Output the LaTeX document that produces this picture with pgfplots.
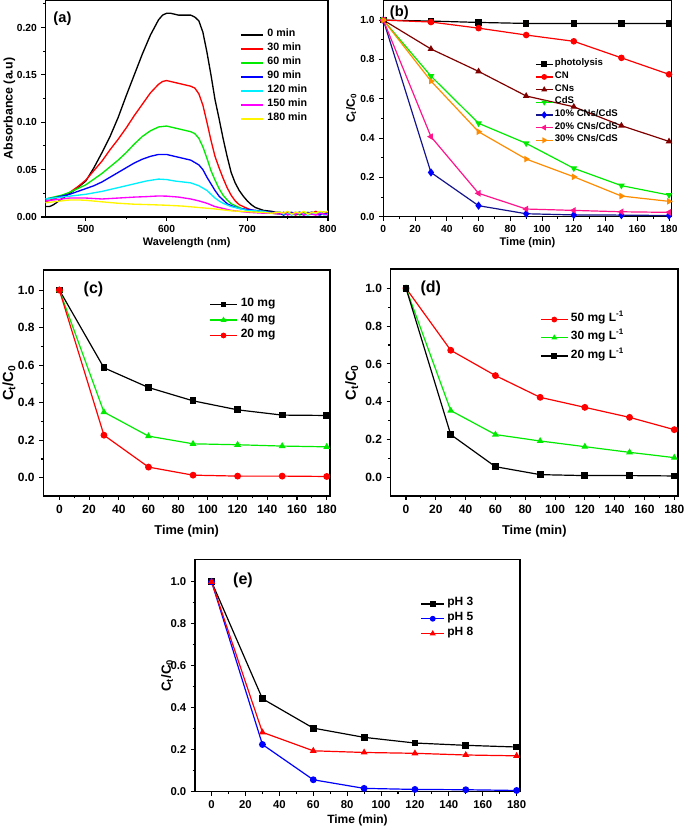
\documentclass[border=0pt]{standalone}
\usepackage{fontspec}
\setmainfont{Liberation Sans}
\usepackage{pgfplots}
\pgfplotsset{compat=1.18}
\definecolor{cgreen}{RGB}{0,235,0}
\definecolor{wine}{RGB}{128,0,0}
\definecolor{navyb}{RGB}{20,20,140}
\definecolor{hotpink}{RGB}{255,20,140}
\definecolor{orng}{RGB}{255,140,0}
\definecolor{yel}{RGB}{255,245,0}
\definecolor{ccyan}{RGB}{0,240,255}
\definecolor{cmag}{RGB}{255,0,255}
\definecolor{cred}{RGB}{255,0,0}
\definecolor{cblue}{RGB}{0,0,255}
\pgfplotsset{
  base/.style={scale only axis, anchor=south west,
    axis line style={line width=0.9pt},
    tick align=outside, xtick pos=bottom, ytick pos=left,
    major tick length=3pt, minor tick length=1.8pt,
    every tick/.append style={black, line width=0.8pt},
    /pgf/number format/assume math mode=true,
    legend cell align=left,
    every axis plot/.append style={line width=0.9pt},
  },
  kin/.style={base,
    xtick={0,20,...,180}, minor xtick={10,30,...,170},
    ytick={0,0.2,...,1.0}, minor ytick={0.1,0.3,...,0.9},
    yticklabel style={/pgf/number format/.cd, fixed, fixed zerofill, precision=1},
    xticklabel style={/pgf/number format/.cd, fixed},
  },
  mleg/.style={legend image code/.code={\draw[mark repeat=2,mark phase=2,line width=0.9pt,##1,mark size=1.7pt] plot coordinates {(0pt,0pt) (#1/2,0pt) (#1,0pt)};}},
}
\begin{document}
\begin{tikzpicture}
\useasboundingbox (0,0) rectangle (513.75pt,619.5pt);
% ---------------- (a)
\begin{axis}[base, at={(34.125pt,456.75pt)}, width=211.875pt, height=162.75pt,
  xmin=450, xmax=800, ymin=0, ymax=0.229,
  xtick={500,600,700,800}, minor xtick={550,650,750},
  ytick={0,0.05,...,0.2}, minor ytick={0.025,0.075,...,0.2},
  yticklabel style={/pgf/number format/.cd, fixed, fixed zerofill, precision=2},
  ticklabel style={font=\bfseries\fontsize{7.7}{8}\selectfont},
  xlabel={Wavelength (nm)}, ylabel={Absorbance (a.u)},
  xlabel style={at={(axis description cs:0.5,-0.12)}, anchor=center, font=\bfseries\fontsize{8.2}{9}\selectfont},
  ylabel style={at={(axis description cs:-0.1274,0.5)}, anchor=center, font=\bfseries\fontsize{9.3}{10}\selectfont},
  every axis plot/.append style={line width=1pt},
  legend image code/.code={\draw[line width=1pt,#1] (0pt,0pt) -- (17pt,0pt);},
  legend style={at={(0.688,0.872)}, anchor=north west, draw=none, fill=none, inner sep=0pt, row sep=0pt, column sep=2.5pt,
    nodes={inner sep=0pt, text height=6.5pt, text depth=4pt, font=\bfseries\fontsize{8}{9}\selectfont}},
]
\addplot[black] coordinates {(450,0.011)(455,0.011)(460,0.013)(465,0.016)(470,0.019)(475,0.022)(480,0.025)(490,0.031)(500,0.038)(510,0.052)(520,0.068)(530,0.085)(540,0.105)(550,0.128)(560,0.150)(570,0.172)(580,0.192)(590,0.208)(595,0.213)(600,0.215)(605,0.215)(610,0.214)(615,0.213)(620,0.213)(625,0.213)(630,0.213)(635,0.211)(640,0.207)(645,0.195)(650,0.174)(655,0.150)(660,0.124)(665,0.104)(670,0.083)(675,0.064)(680,0.047)(685,0.036)(690,0.028)(695,0.022)(700,0.017)(705,0.013)(710,0.010)(720,0.007)(730,0.006)(735,0.005)(740,0.005)(745,0.004)(750,0.005)(755,0.003)(760,0.004)(765,0.005)(770,0.003)(775,0.004)(780,0.005)(785,0.003)(790,0.004)(795,0.005)(800,0.004)};
\addlegendentry{0 min}
\addplot[cred] coordinates {(450,0.016)(460,0.019)(470,0.022)(480,0.026)(490,0.032)(500,0.039)(510,0.049)(520,0.059)(530,0.071)(540,0.082)(550,0.094)(560,0.107)(570,0.119)(580,0.131)(590,0.140)(595,0.143)(600,0.144)(610,0.142)(620,0.140)(630,0.138)(635,0.136)(640,0.130)(645,0.118)(650,0.100)(655,0.081)(660,0.064)(665,0.052)(670,0.041)(675,0.031)(680,0.023)(685,0.017)(690,0.013)(700,0.009)(710,0.006)(720,0.005)(730,0.004)(740,0.004)(745,0.003)(750,0.005)(755,0.004)(760,0.002)(765,0.004)(770,0.005)(775,0.003)(780,0.004)(785,0.006)(790,0.003)(795,0.004)(800,0.005)};
\addlegendentry{30 min}
\addplot[cgreen] coordinates {(450,0.019)(460,0.021)(470,0.023)(480,0.026)(490,0.030)(500,0.034)(510,0.040)(520,0.046)(530,0.053)(540,0.060)(550,0.068)(560,0.077)(570,0.085)(580,0.091)(590,0.095)(600,0.096)(610,0.094)(620,0.092)(630,0.090)(635,0.088)(640,0.083)(645,0.074)(650,0.062)(655,0.049)(660,0.039)(665,0.030)(670,0.023)(675,0.018)(680,0.014)(690,0.010)(700,0.007)(710,0.006)(720,0.005)(730,0.004)(740,0.003)(745,0.005)(750,0.003)(755,0.004)(760,0.005)(765,0.002)(770,0.004)(775,0.005)(780,0.003)(785,0.004)(790,0.005)(795,0.003)(800,0.004)};
\addlegendentry{60 min}
\addplot[cblue] coordinates {(450,0.019)(460,0.020)(470,0.022)(480,0.024)(490,0.027)(500,0.030)(510,0.033)(520,0.037)(530,0.042)(540,0.047)(550,0.052)(560,0.057)(570,0.061)(580,0.064)(590,0.066)(600,0.066)(610,0.064)(620,0.062)(630,0.060)(640,0.055)(645,0.050)(650,0.042)(655,0.035)(660,0.028)(665,0.022)(670,0.018)(675,0.014)(680,0.012)(690,0.009)(700,0.008)(720,0.006)(730,0.005)(740,0.004)(745,0.002)(750,0.004)(755,0.005)(760,0.003)(765,0.004)(770,0.002)(775,0.004)(780,0.005)(785,0.003)(790,0.002)(795,0.004)(800,0.003)};
\addlegendentry{90 min}
\addplot[ccyan] coordinates {(450,0.019)(470,0.021)(480,0.022)(500,0.024)(520,0.027)(540,0.031)(560,0.035)(575,0.038)(590,0.040)(600,0.0395)(610,0.038)(620,0.037)(630,0.036)(640,0.033)(650,0.028)(655,0.024)(660,0.020)(665,0.017)(670,0.0145)(680,0.011)(690,0.009)(700,0.007)(720,0.006)(730,0.004)(740,0.005)(745,0.003)(750,0.004)(755,0.002)(760,0.004)(765,0.005)(770,0.003)(775,0.002)(780,0.004)(785,0.003)(790,0.005)(795,0.002)(800,0.003)};
\addlegendentry{120 min}
\addplot[cmag] coordinates {(450,0.017)(470,0.019)(480,0.020)(500,0.020)(520,0.019)(540,0.020)(560,0.021)(575,0.0215)(590,0.0222)(600,0.022)(615,0.021)(630,0.019)(640,0.017)(650,0.0145)(660,0.011)(670,0.009)(680,0.007)(700,0.005)(720,0.004)(730,0.004)(740,0.003)(745,0.005)(750,0.002)(755,0.004)(760,0.003)(765,0.005)(770,0.002)(775,0.004)(780,0.003)(785,0.002)(790,0.004)(795,0.003)(800,0.002)};
\addlegendentry{150 min}
\addplot[yel] coordinates {(450,0.015)(460,0.016)(470,0.017)(480,0.018)(490,0.018)(500,0.0176)(520,0.016)(540,0.0145)(560,0.0135)(580,0.013)(600,0.0124)(620,0.0115)(640,0.010)(660,0.0085)(680,0.0065)(700,0.0056)(720,0.0048)(730,0.004)(740,0.005)(745,0.004)(750,0.006)(755,0.003)(760,0.005)(765,0.004)(770,0.006)(775,0.003)(780,0.005)(785,0.004)(790,0.006)(795,0.005)(800,0.006)};
\addlegendentry{180 min}
\node[font=\bfseries\fontsize{11}{12}\selectfont] at (rel axis cs:0.06,0.912) {(a)};
\end{axis}
% ---------------- (b)
\begin{axis}[kin, at={(287.5pt,456.975pt)}, width=216.3pt, height=162.5pt,
  xmin=0, xmax=181.7, ymin=0, ymax=1.102,
  ticklabel style={font=\bfseries\fontsize{7.7}{8}\selectfont},
  xlabel={Time (min)}, ylabel={C\textsubscript{t}/C\textsubscript{0}},
  xlabel style={at={(axis description cs:0.5,-0.1214)}, anchor=center, font=\bfseries\fontsize{8.3}{9}\selectfont},
  ylabel style={at={(axis description cs:-0.111,0.5)}, anchor=center, font=\bfseries\fontsize{9}{10}\selectfont},
  mark size=2pt, mleg=12.5pt,
  legend style={at={(0.526,0.734)}, anchor=north west, draw=none, fill=none, inner sep=0pt, row sep=0pt, column sep=1.3pt,
    nodes={inner sep=0pt, text height=6pt, text depth=3.5pt, font=\bfseries\fontsize{7.2}{8}\selectfont}},
]
\addplot[black, mark=square*] coordinates {(0,1.0)(30,0.995)(60,0.988)(90,0.983)(120,0.983)(150,0.983)(180,0.983)};
\addlegendentry{photolysis}
\addplot[cred, mark=*] coordinates {(0,1.0)(30,0.99)(60,0.959)(90,0.924)(120,0.892)(150,0.808)(180,0.724)};
\addlegendentry{CN}
\addplot[wine, mark=triangle*] coordinates {(0,1.0)(30,0.853)(60,0.739)(90,0.614)(120,0.559)(150,0.463)(180,0.383)};
\addlegendentry{CNs}
\addplot[cgreen, mark=triangle*, mark options={rotate=180}] coordinates {(0,1.0)(30,0.715)(60,0.475)(90,0.373)(120,0.246)(150,0.158)(180,0.11)};
\addlegendentry{CdS}
\addplot[navyb, mark=diamond*, mark options={cblue, scale=1.2}] coordinates {(0,1.0)(30,0.225)(60,0.056)(90,0.015)(120,0.009)(150,0.008)(180,0.006)};
\addlegendentry{10\% CNs/CdS}
\addplot[hotpink, mark=triangle*, mark options={rotate=90}] coordinates {(0,1.0)(30,0.407)(60,0.119)(90,0.039)(120,0.032)(150,0.025)(180,0.022)};
\addlegendentry{20\% CNs/CdS}
\addplot[orng, mark=triangle*, mark options={rotate=-90}] coordinates {(0,1.0)(30,0.69)(60,0.432)(90,0.293)(120,0.203)(150,0.105)(180,0.078)};
\addlegendentry{30\% CNs/CdS}
\node[font=\bfseries\fontsize{11}{12}\selectfont] at (rel axis cs:0.0555,0.94) {(b)};
\end{axis}
% ---------------- (c)
\begin{axis}[kin, at={(32.5pt,247.5pt)}, width=215pt, height=169.5pt,
  xmin=-10.8, xmax=182.2, ymin=-0.097, ymax=1.107,
  ticklabel style={font=\bfseries\fontsize{9}{10}\selectfont},
  xlabel={Time (min)}, ylabel={C\textsubscript{t}/C\textsubscript{0}},
  xlabel style={at={(axis description cs:0.5,-0.157)}, anchor=center, font=\bfseries\fontsize{9.6}{11}\selectfont},
  ylabel style={at={(axis description cs:-0.1196,0.5)}, anchor=center, font=\bfseries\fontsize{11}{12}\selectfont},
  mark size=2.1pt, mleg=20pt,
  legend style={at={(0.579,0.8825)}, anchor=north west, draw=none, fill=none, inner sep=0pt, row sep=0pt, column sep=2.5pt,
    nodes={inner sep=0pt, text height=7.3pt, text depth=4.3pt, font=\bfseries\fontsize{9}{10}\selectfont}},
]
\addplot[black, mark=square*] coordinates {(0,1.0)(30,0.586)(60,0.481)(90,0.41)(120,0.362)(150,0.334)(180,0.332)};
\addlegendentry{10 mg}
\addplot[cgreen, mark=triangle*] coordinates {(0,1.0)(30,0.35)(60,0.222)(90,0.181)(120,0.176)(150,0.169)(180,0.165)};
\addlegendentry{40 mg}
\addplot[cred, mark=*] coordinates {(0,1.0)(30,0.227)(60,0.057)(90,0.014)(120,0.009)(150,0.009)(180,0.007)};
\addlegendentry{20 mg}
\node[font=\bfseries\fontsize{12}{13}\selectfont] at (rel axis cs:0.175,0.916) {(c)};
\end{axis}
% ---------------- (d)
\begin{axis}[kin, at={(293pt,247.5pt)}, width=215.5pt, height=170.25pt,
  xmin=-10.3, xmax=182.5, ymin=-0.099, ymax=1.102,
  ticklabel style={font=\bfseries\fontsize{9}{10}\selectfont},
  xlabel={Time (min)}, ylabel={C\textsubscript{t}/C\textsubscript{0}},
  xlabel style={at={(axis description cs:0.5,-0.156)}, anchor=center, font=\bfseries\fontsize{9.6}{11}\selectfont},
  ylabel style={at={(axis description cs:-0.1357,0.5)}, anchor=center, font=\bfseries\fontsize{11}{12}\selectfont},
  mark size=2.1pt, mleg=20pt,
  legend style={at={(0.52,0.8185)}, anchor=north west, draw=none, fill=none, inner sep=0pt, row sep=0pt, column sep=2pt,
    nodes={inner sep=0pt, text height=8.5pt, text depth=5.15pt, font=\bfseries\fontsize{9}{10}\selectfont}},
]
\addplot[cred, mark=*] coordinates {(0,1.0)(30,0.672)(60,0.538)(90,0.423)(120,0.370)(150,0.317)(180,0.252)};
\addlegendentry{50 mg L\textsuperscript{-1}}
\addplot[cgreen, mark=triangle*] coordinates {(0,1.0)(30,0.353)(60,0.226)(90,0.192)(120,0.162)(150,0.132)(180,0.104)};
\addlegendentry{30 mg L\textsuperscript{-1}}
\addplot[black, mark=square*] coordinates {(0,1.0)(30,0.226)(60,0.056)(90,0.014)(120,0.009)(150,0.009)(180,0.007)};
\addlegendentry{20 mg L\textsuperscript{-1}}
\node[font=\bfseries\fontsize{12}{13}\selectfont] at (rel axis cs:0.1396,0.916) {(d)};
\end{axis}
% ---------------- (e)
\begin{axis}[kin, at={(146.25pt,25.7pt)}, width=243.75pt, height=174.3pt,
  xmin=-9.8, xmax=182, ymin=0, ymax=1.107,
  ticklabel style={font=\bfseries\fontsize{8.5}{9}\selectfont},
  xlabel={Time (min)}, ylabel={C\textsubscript{t}/C\textsubscript{0}},
  xlabel style={at={(axis description cs:0.5,-0.1218)}, anchor=center, font=\bfseries\fontsize{9}{10}\selectfont},
  ylabel style={at={(axis description cs:-0.0862,0.5)}, anchor=center, font=\bfseries\fontsize{10}{11}\selectfont},
  mark size=2.1pt, mleg=17pt,
  legend style={at={(0.694,0.841)}, anchor=north west, draw=none, fill=none, inner sep=0pt, row sep=0pt, column sep=2pt,
    nodes={inner sep=0pt, text height=7pt, text depth=4.1pt, font=\bfseries\fontsize{9}{10}\selectfont}},
]
\addplot[black, mark=square*] coordinates {(0,1.0)(30,0.443)(60,0.303)(90,0.259)(120,0.232)(150,0.221)(180,0.213)};
\addlegendentry{pH 3}
\addplot[cblue, mark=*] coordinates {(0,1.0)(30,0.225)(60,0.057)(90,0.016)(120,0.011)(150,0.0095)(180,0.006)};
\addlegendentry{pH 5}
\addplot[cred, mark=triangle*] coordinates {(0,1.0)(30,0.283)(60,0.195)(90,0.187)(120,0.183)(150,0.175)(180,0.171)};
\addlegendentry{pH 8}
\node[font=\bfseries\fontsize{12}{13}\selectfont] at (rel axis cs:0.1477,0.911) {(e)};
\end{axis}
\end{tikzpicture}
\end{document}
